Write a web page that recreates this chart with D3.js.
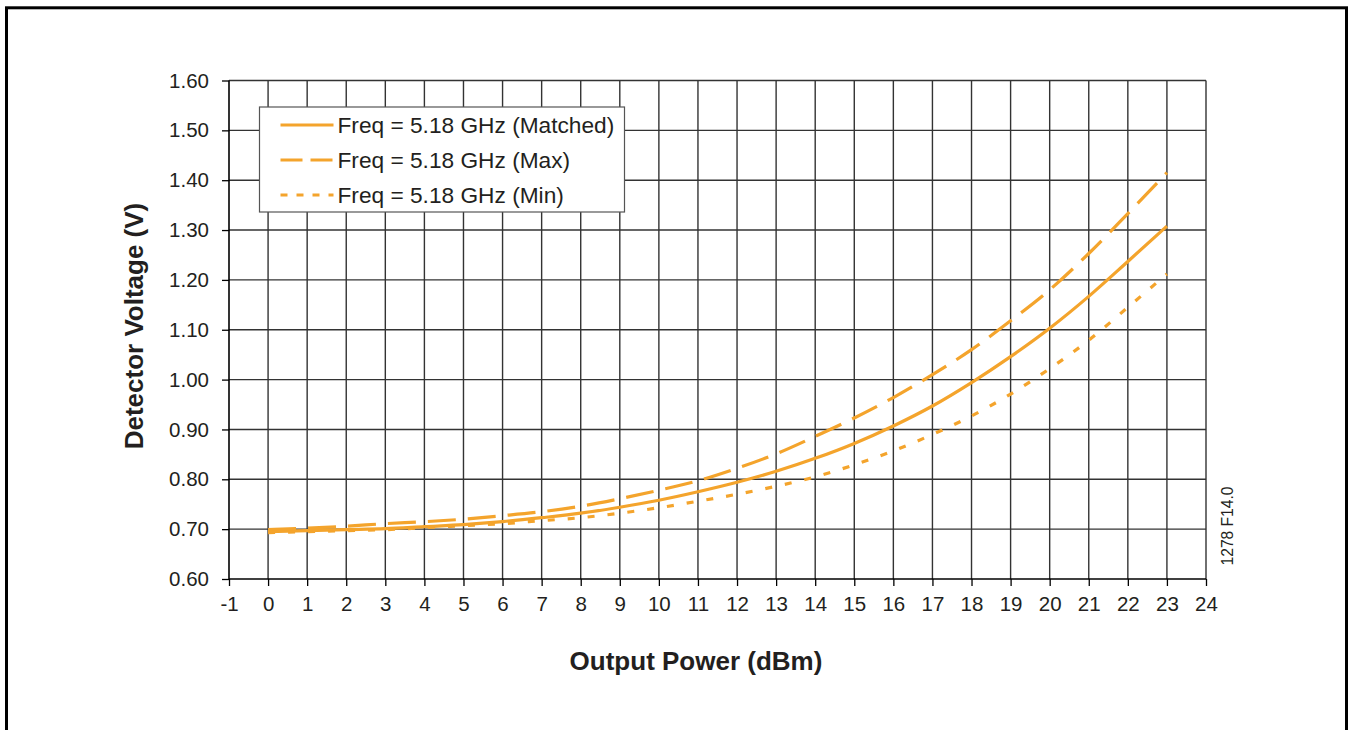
<!DOCTYPE html>
<html>
<head>
<meta charset="utf-8">
<script src="https://cdn.jsdelivr.net/npm/d3@7"></script>
<style>
  body { margin: 0; background: #fff; }
  text { font-family: "Liberation Sans", Arial, Helvetica, sans-serif; fill: #231f20; }
</style>
</head>
<body>
<div id="chart"></div>
<script>
// Output power (dBm)
var power = [0, 1, 2, 3, 4, 5, 6, 7, 8, 9, 10, 11, 12, 13, 14, 15, 16, 17, 18, 19, 20, 21, 22, 23];
// Detector voltage (V) for each case
var matched = [0.695, 0.697, 0.699, 0.701, 0.705, 0.709, 0.715, 0.723, 0.732, 0.744, 0.758, 0.775,
               0.794, 0.816, 0.842, 0.872, 0.907, 0.947, 0.994, 1.046, 1.103, 1.167, 1.237, 1.308];
var maxV    = [0.699, 0.702, 0.706, 0.711, 0.715, 0.720, 0.727, 0.735, 0.746, 0.761, 0.778, 0.797,
               0.822, 0.851, 0.886, 0.923, 0.964, 1.010, 1.060, 1.118, 1.180, 1.253, 1.333, 1.415];
var minV    = [0.693, 0.695, 0.697, 0.699, 0.703, 0.707, 0.711, 0.717, 0.723, 0.732, 0.743, 0.756,
               0.770, 0.786, 0.805, 0.829, 0.857, 0.890, 0.927, 0.971, 1.022, 1.079, 1.145, 1.212];
var seriesNames = ["Freq = 5.18 GHz (Matched)", "Freq = 5.18 GHz (Max)", "Freq = 5.18 GHz (Min)"];
var xTicks = d3.range(-1, 25);
var yTicks = [0.60, 0.70, 0.80, 0.90, 1.00, 1.10, 1.20, 1.30, 1.40, 1.50, 1.60];

var series = [
  {name: seriesNames[0], values: matched, dash: null, legendDash: null},
  {name: seriesNames[1], values: maxV, dash: "28,12", legendDash: "22,8"},
  {name: seriesNames[2], values: minV, dash: "7,13", legendDash: "7,9"}
];

var orange = "#f4a42c";

var margin = {top: 80.5, left: 229},
    width = 977,
    height = 498.5;

var svg = d3.select("#chart").append("svg")
  .attr("width", 1350)
  .attr("height", 730);

// outer frame
svg.append("rect")
  .attr("x", 6.5).attr("y", 7.8)
  .attr("width", 1340).attr("height", 800)
  .attr("fill", "none")
  .attr("stroke", "#000")
  .attr("stroke-width", 3);

var g = svg.append("g")
  .attr("transform", "translate(" + margin.left + "," + margin.top + ")");

var x = d3.scaleLinear().domain([-1, 24]).range([0, width]);
var y = d3.scaleLinear().domain([0.6, 1.6]).range([height, 0]);

// grid
g.append("g").selectAll("line")
  .data(xTicks.slice(1))
  .enter().append("line")
  .attr("x1", function(d) { return x(d); })
  .attr("x2", function(d) { return x(d); })
  .attr("y1", 0).attr("y2", height)
  .attr("stroke", "#333")
  .attr("stroke-width", 1.4);

g.append("g").selectAll("line")
  .data(yTicks.slice(1))
  .enter().append("line")
  .attr("x1", 0).attr("x2", width)
  .attr("y1", function(d) { return y(d); })
  .attr("y2", function(d) { return y(d); })
  .attr("stroke", "#333")
  .attr("stroke-width", 1.4);

// axes
var xAxis = g.append("g")
  .attr("transform", "translate(0," + height + ")")
  .call(d3.axisBottom(x).tickValues(xTicks).tickSize(7).tickPadding(10)
    .tickFormat(function(d) { return String(d); }));

var yAxis = g.append("g")
  .call(d3.axisLeft(y).tickValues(yTicks).tickSize(7).tickPadding(13).tickFormat(d3.format(".2f")));

[xAxis, yAxis].forEach(function(a) {
  a.select(".domain").attr("stroke", "#000").attr("stroke-width", 1.6);
  a.selectAll(".tick line").attr("stroke", "#000").attr("stroke-width", 1.3);
  a.selectAll(".tick text")
    .attr("font-size", "20.5px")
    .attr("font-family", "'Liberation Sans', Arial, sans-serif")
    .attr("fill", "#231f20");
});
xAxis.select(".domain").attr("d", "M0,0H" + width);
yAxis.select(".domain").attr("d", "M0," + height + "V0");

// curves
var line = d3.line()
  .x(function(d, i) { return x(power[i]); })
  .y(function(d) { return y(d); })
  .curve(d3.curveMonotoneX);

g.selectAll(".series")
  .data(series)
  .enter().append("path")
  .attr("class", "series")
  .attr("d", function(d) { return line(d.values); })
  .attr("fill", "none")
  .attr("stroke", orange)
  .attr("stroke-width", 3.2)
  .attr("stroke-dasharray", function(d) { return d.dash; });

// legend
var legend = svg.append("g").attr("transform", "translate(259.5,107)");
legend.append("rect")
  .attr("width", 365).attr("height", 105)
  .attr("fill", "#fff")
  .attr("stroke", "#555")
  .attr("stroke-width", 1.2);

var item = legend.selectAll(".item")
  .data(series)
  .enter().append("g")
  .attr("transform", function(d, i) { return "translate(0," + (18 + i * 35) + ")"; });

item.append("line")
  .attr("x1", 21).attr("x2", 74)
  .attr("stroke", orange)
  .attr("stroke-width", 3.2)
  .attr("stroke-dasharray", function(d) { return d.legendDash; });

item.append("text")
  .attr("x", 78)
  .attr("dy", "0.36em")
  .attr("font-size", "22.7px")
  .text(function(d) { return d.name; });

// axis titles
svg.append("text")
  .attr("x", margin.left + x(10.95))
  .attr("y", 670)
  .attr("text-anchor", "middle")
  .attr("font-size", "26px")
  .attr("font-weight", "bold")
  .text("Output Power (dBm)");

svg.append("text")
  .attr("transform", "translate(143," + 326 + ") rotate(-90)")
  .attr("text-anchor", "middle")
  .attr("font-size", "26px")
  .attr("font-weight", "bold")
  .text("Detector Voltage (V)");

svg.append("text")
  .attr("transform", "translate(1233,526) rotate(-90)")
  .attr("text-anchor", "middle")
  .attr("font-size", "15.6px")
  .text("1278 F14.0");
</script>
</body>
</html>
